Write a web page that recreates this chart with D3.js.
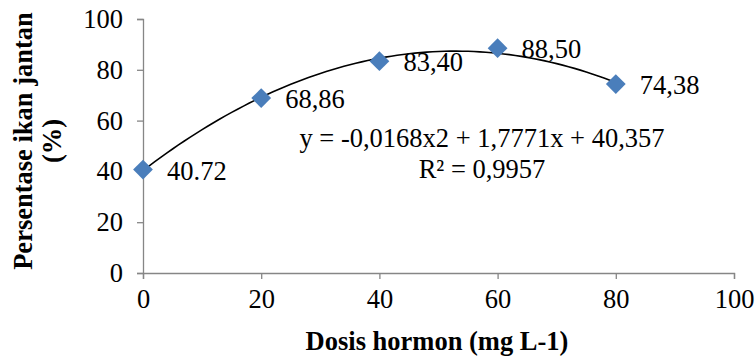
<!DOCTYPE html>
<html>
<head>
<meta charset="utf-8">
<script src="https://cdn.jsdelivr.net/npm/d3@7"></script>
<style>
  html, body { margin: 0; padding: 0; background: #fff; }
  svg text { font-family: "Liberation Serif", "Times New Roman", serif; fill: #000; }
</style>
</head>
<body>
<svg id="chart" width="755" height="363"></svg>
<script>
// Hormone dose (mg L-1) and resulting male percentage
const doses = [0, 20, 40, 60, 80];
const malePct = [40.72, 68.86, 83.40, 88.50, 74.38];
const pointLabels = ["40.72", "68,86", "83,40", "88,50", "74,38"];
const xTicks = [0, 20, 40, 60, 80, 100];
const yTicks = [0, 20, 40, 60, 80, 100];
// Polynomial (order 2) trendline coefficients: y = a x^2 + b x + c
const trendCoef = [-0.0168, 1.7771, 40.357];
const equationLines = ["y = -0,0168x2 + 1,7771x + 40,357", "R² = 0,9957"];
const xTitle = "Dosis hormon (mg L-1)";
const yTitleLines = ["Persentase ikan jantan", "(%)"];

const svg = d3.select("#chart");
const FONT = 26.5;
const AXIS_COLOR = "#868686";
const MARK_COLOR = "#4a7ebb";

const x = d3.scaleLinear().domain([0, 100]).range([143, 734]);
const y = d3.scaleLinear().domain([0, 100]).range([273, 19]);

// Axes
const xAxis = svg.append("g")
  .attr("transform", `translate(0,${y(0)})`)
  .call(d3.axisBottom(x).tickValues(xTicks).tickSize(6).tickPadding(10).tickFormat(d3.format("d")));
const yAxis = svg.append("g")
  .attr("transform", `translate(${x(0)},0)`)
  .call(d3.axisLeft(y).tickValues(yTicks).tickSize(6).tickPadding(14).tickFormat(d3.format("d")));

[xAxis, yAxis].forEach(g => {
  g.select(".domain").attr("stroke", AXIS_COLOR).attr("stroke-width", 1.3);
  g.selectAll(".tick line").attr("stroke", AXIS_COLOR).attr("stroke-width", 1.3);
  g.selectAll(".tick text")
    .attr("fill", "#000")
    .style("font-family", '"Liberation Serif", "Times New Roman", serif')
    .style("font-size", FONT + "px");
});

// Trendline from the fitted equation, over the range of tested doses
const trendX = d3.range(0, 80.5, 1);
const trend = d3.line()
  .x(d => x(d))
  .y(d => y(trendCoef[0] * d * d + trendCoef[1] * d + trendCoef[2]));
svg.append("path")
  .datum(trendX)
  .attr("d", trend)
  .attr("fill", "none")
  .attr("stroke", "#000")
  .attr("stroke-width", 1.6);

// Diamond markers
const diamond = d3.symbol().type(d3.symbolDiamond2).size(250);
svg.append("g").selectAll("path")
  .data(doses)
  .join("path")
  .attr("d", diamond)
  .attr("transform", (d, i) => `translate(${x(d)},${y(malePct[i])})`)
  .attr("fill", MARK_COLOR);

// Value labels, right of each marker
svg.append("g").selectAll("text")
  .data(doses)
  .join("text")
  .attr("x", d => x(d) + 24)
  .attr("y", (d, i) => y(malePct[i]) + 10)
  .style("font-size", FONT + "px")
  .text((d, i) => pointLabels[i]);

// Equation and R²
svg.append("text")
  .attr("x", 482).attr("y", 147)
  .attr("text-anchor", "middle")
  .style("font-size", FONT + "px")
  .text(equationLines[0]);
svg.append("text")
  .attr("x", 482).attr("y", 178)
  .attr("text-anchor", "middle")
  .style("font-size", FONT + "px")
  .text(equationLines[1]);

// Axis titles
svg.append("text")
  .attr("x", 437).attr("y", 350)
  .attr("text-anchor", "middle")
  .style("font-size", FONT + "px")
  .style("font-weight", "bold")
  .text(xTitle);

const yTitle = svg.append("text")
  .attr("transform", "translate(32,141) rotate(-90)")
  .attr("text-anchor", "middle")
  .style("font-size", FONT + "px")
  .style("font-weight", "bold");
yTitle.append("tspan").attr("x", 0).attr("y", 0).text(yTitleLines[0]);
yTitle.append("tspan").attr("x", 0).attr("y", 29).text(yTitleLines[1]);
</script>
</body>
</html>
